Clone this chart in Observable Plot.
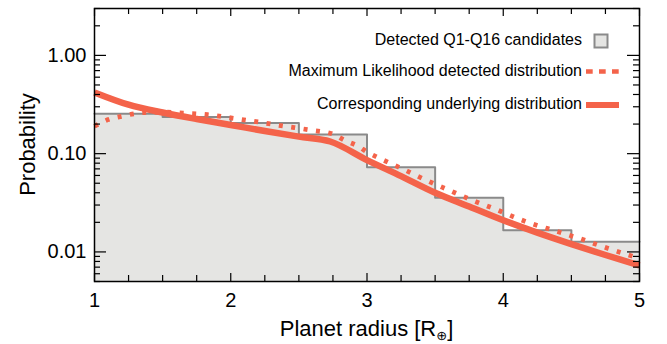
<!DOCTYPE html>
<html><head><meta charset="utf-8">
<script src="https://cdn.jsdelivr.net/npm/d3@7"></script>
<script src="https://cdn.jsdelivr.net/npm/@observablehq/plot@0.6"></script>
<style>
body{margin:0;background:#fff}
#chart{width:667px;height:344px}
</style>
</head><body><div id="chart"></div>
<script>
// ---- data ----
const binEdges = [1, 1.5, 2, 2.5, 3, 3.5, 4, 4.5, 5];
const detectedFraction = [0.255, 0.236, 0.205, 0.157, 0.0726, 0.0356, 0.0166, 0.0127];

const underlyingRadius = [1.0, 1.25, 1.5, 1.75, 2.0, 2.25, 2.5, 2.73, 3.0, 3.25, 3.5, 3.75, 4.0, 4.25, 4.5, 4.75, 5.0];
const underlyingProb   = [0.42, 0.315, 0.262, 0.225, 0.196, 0.170, 0.149, 0.133, 0.086, 0.059, 0.040, 0.029, 0.021, 0.0157, 0.0120, 0.0093, 0.0073];

const mlRadius = [1.0, 1.1, 1.2, 1.3, 1.4, 1.5, 1.65, 1.83, 2.0, 2.2, 2.4, 2.57, 2.75, 2.84, 2.93, 3.0, 3.09, 3.26, 3.43, 3.6, 3.77, 3.94, 4.11, 4.21, 4.38, 4.56, 4.74, 4.92, 5.0];
const mlProb   = [0.19, 0.222, 0.240, 0.256, 0.264, 0.265, 0.259, 0.249, 0.231, 0.210, 0.190, 0.175, 0.158, 0.136, 0.120, 0.104, 0.090, 0.070, 0.054, 0.0426, 0.0337, 0.0273, 0.0218, 0.0194, 0.0164, 0.0137, 0.0112, 0.0093, 0.0086];

const xMajorTicks = [1, 2, 3, 4, 5];
const xTickLabels = ["1", "2", "3", "4", "5"];
const yMajorTicks = [0.01, 0.1, 1];
const yTickLabels = ["0.01", "0.10", "1.00"];
const legendLabels = ["Detected Q1-Q16 candidates", "Maximum Likelihood detected distribution", "Corresponding underlying distribution"];
const xLabel = "Planet radius [R";
const xLabelSub = "\u2295";
const yLabel = "Probability";

// ---- derived tables ----
const yMin = 0.005, yMax = 3;
const steps = detectedFraction.map((v, i) => ({x: binEdges[i], y: v}))
  .concat([{x: binEdges[binEdges.length - 1], y: detectedFraction[detectedFraction.length - 1]}]);
const underlying = underlyingRadius.map((r, i) => ({x: r, y: underlyingProb[i]}));
const ml = mlRadius.map((r, i) => ({x: r, y: mlProb[i]}));
const xMinorTicks = d3.range(1, 5.001, 0.25).filter(v => Math.abs(v - Math.round(v)) > 1e-6);
const yMinorTicks = [];
for (const p of [0.001, 0.01, 0.1, 1]) for (let k = 2; k <= 9; k++) {
  const v = +(k * p).toPrecision(3);
  if (v >= yMin && v <= yMax) yMinorTicks.push(v);
}
const yTicks = yMajorTicks.map((v, i) => ({v, label: yTickLabels[i]}));
const xTicks = xMajorTicks.map((v, i) => ({v, label: xTickLabels[i]}));

// ---- layout / style ----
const W = 667, H = 344, mt = 8, mr = 28, mb = 63, ml_ = 94;
const fh = H - mt - mb, fw = W - ml_ - mr;
const RED = "#f4634a", GRAY = "#8a8a8a", FILL = "#e5e5e3";
const FONT = "'Liberation Sans', Arial, Helvetica, sans-serif";

const chart = Plot.plot({
  width: W, height: H,
  marginTop: mt, marginRight: mr, marginBottom: mb, marginLeft: ml_,
  style: {fontFamily: FONT, background: "white", color: "black"},
  x: {domain: [1, 5], axis: null},
  y: {type: "log", domain: [yMin, yMax], axis: null},
  marks: [
    Plot.areaY(steps, {x: "x", y1: yMin, y2: "y", curve: "step-after", fill: FILL}),
    Plot.line(steps, {x: "x", y: "y", curve: "step-after", stroke: GRAY, strokeWidth: 2}),
    Plot.line(ml, {x: "x", y: "y", curve: "monotone-x", stroke: RED, strokeWidth: 4.8, strokeDasharray: "4,8.5", strokeLinecap: "butt"}),
    Plot.line(underlying, {x: "x", y: "y", curve: "monotone-x", stroke: RED, strokeWidth: 6.5, strokeLinecap: "butt"}),
    // inward ticks, bottom & top
    Plot.ruleX(xMajorTicks, {x: d => d, insetTop: fh - 8, stroke: "black", strokeWidth: 1.2}),
    Plot.ruleX(xMinorTicks, {x: d => d, insetTop: fh - 6, stroke: "black", strokeWidth: 1.2}),
    Plot.ruleX(xMajorTicks, {x: d => d, insetBottom: fh - 8, stroke: "black", strokeWidth: 1.2}),
    Plot.ruleX(xMinorTicks, {x: d => d, insetBottom: fh - 6, stroke: "black", strokeWidth: 1.2}),
    // inward ticks, left & right
    Plot.ruleY(yMajorTicks, {y: d => d, insetRight: fw - 12, stroke: "black", strokeWidth: 1.2}),
    Plot.ruleY(yMinorTicks, {y: d => d, insetRight: fw - 6, stroke: "black", strokeWidth: 1.2}),
    Plot.ruleY(yMajorTicks, {y: d => d, insetLeft: fw - 12, stroke: "black", strokeWidth: 1.2}),
    Plot.ruleY(yMinorTicks, {y: d => d, insetLeft: fw - 6, stroke: "black", strokeWidth: 1.2}),
    Plot.frame({stroke: "black", strokeWidth: 1.5}),
    // tick labels
    Plot.text(xTicks, {x: "v", text: "label", frameAnchor: "bottom", lineAnchor: "top", dy: 11, fontSize: 20, fill: "black"}),
    Plot.text(yTicks, {y: "v", text: "label", frameAnchor: "left", textAnchor: "end", dx: -8, fontSize: 20, fill: "black"})
  ]
});
document.getElementById("chart").appendChild(chart);

// ---- axis titles and legend ----
const svg = d3.select(chart);
const xs = chart.scale("x"), ys = chart.scale("y");
const cx = (xs.apply(1) + xs.apply(5)) / 2;
const xt = svg.append("text").attr("x", cx).attr("y", 336).attr("text-anchor", "middle")
  .attr("font-size", 22).attr("font-family", FONT).attr("fill", "black");
xt.append("tspan").text(xLabel);
xt.append("tspan").attr("font-size", 13).attr("dy", 4).attr("font-family", "'DejaVu Sans', sans-serif").text(xLabelSub);
xt.append("tspan").attr("dy", -4).text("]");

const cy = (ys.apply(yMin) + ys.apply(yMax)) / 2;
svg.append("text").attr("transform", `translate(35,${cy}) rotate(-90)`).attr("text-anchor", "middle")
  .attr("font-size", 22).attr("font-family", FONT).attr("fill", "black").text(yLabel);

const lg = svg.append("g").attr("font-family", FONT).attr("font-size", 16).attr("fill", "black");
const lx = 582, rows = [45, 76, 109];
legendLabels.forEach((t, i) => lg.append("text").attr("x", lx).attr("y", rows[i]).attr("text-anchor", "end").text(t));
lg.append("rect").attr("x", 594.5).attr("y", 34.5).attr("width", 13).attr("height", 13)
  .attr("fill", FILL).attr("stroke", GRAY).attr("stroke-width", 2);
lg.append("line").attr("x1", 586).attr("x2", 619).attr("y1", 71.5).attr("y2", 71.5)
  .attr("stroke", RED).attr("stroke-width", 4.3).attr("stroke-dasharray", "6.7,6.3");
lg.append("line").attr("x1", 586).attr("x2", 619).attr("y1", 105).attr("y2", 105)
  .attr("stroke", RED).attr("stroke-width", 6);
</script>
</body></html>
